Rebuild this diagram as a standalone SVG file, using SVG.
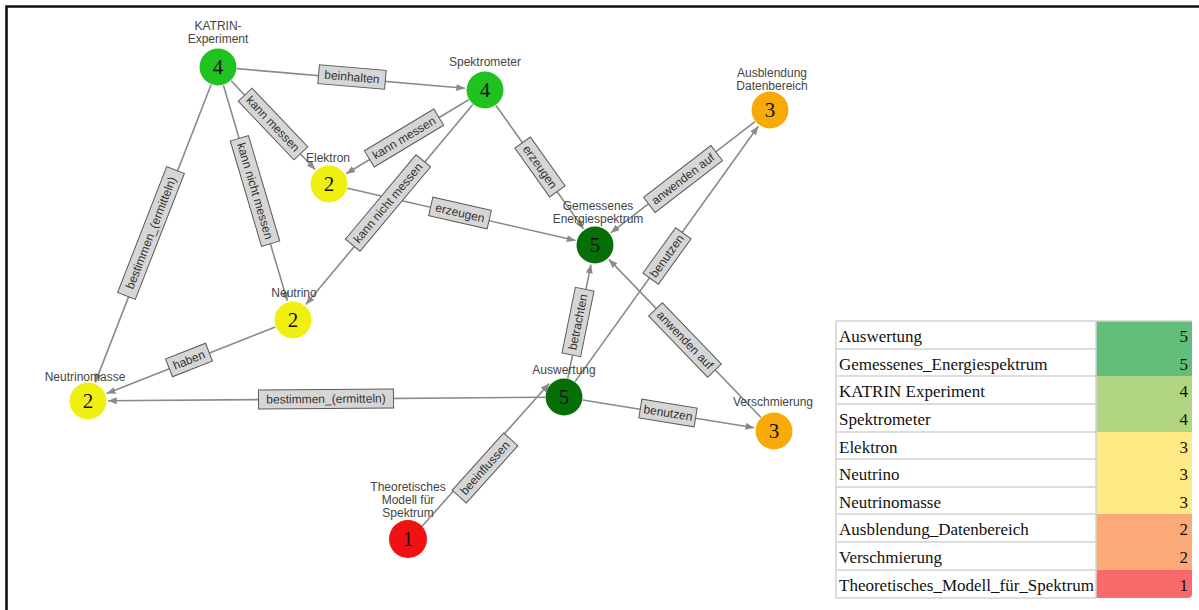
<svg xmlns="http://www.w3.org/2000/svg" width="1199" height="610" viewBox="0 0 1199 610">
  <style>
    .edge { stroke: #8a8a8a; stroke-width: 1.6; fill: none; }
    .elabel rect { fill: #d6d6d6; stroke: #5a5a5a; stroke-width: 1; }
    .elabel text { font-family: "Liberation Sans", Arial, sans-serif; font-size: 12px; fill: #333; text-anchor: middle; }
    .nlabel { font-family: "Liberation Sans", Arial, sans-serif; font-size: 12px; fill: #444; text-anchor: middle; }
    .num { font-family: "Liberation Serif", "Times New Roman", serif; font-size: 21px; fill: #111; text-anchor: middle; }
    .tbl { font-family: "Liberation Serif", "Times New Roman", serif; font-size: 17px; fill: #111; }
    .grid { stroke: #d2d2d2; stroke-width: 1.5; fill: none; }
  </style>
  <defs>
    <marker id="arrow" viewBox="0 0 10 8" refX="10" refY="4" markerWidth="9" markerHeight="7" markerUnits="userSpaceOnUse" orient="auto">
      <path d="M0,0 L10,4 L0,8 z" fill="#8a8a8a"/>
    </marker>
  </defs>

  <rect width="1199" height="610" fill="#ffffff"/>
  <!-- frame -->
  <path d="M6.5,610 V6.5 H1199" stroke="#111" stroke-width="2.6" fill="none"/>

  <!-- connectors -->
  <g id="connectors">
    <line class="edge" x1="236.9" y1="68.6" x2="465.1" y2="88.3" marker-end="url(#arrow)"/>
    <line class="edge" x1="231.1" y1="80.8" x2="315.2" y2="169.5" marker-end="url(#arrow)"/>
    <line class="edge" x1="223.4" y1="85.2" x2="287.3" y2="300.8" marker-end="url(#arrow)"/>
    <line class="edge" x1="211.1" y1="84.7" x2="95.3" y2="382.4" marker-end="url(#arrow)"/>
    <line class="edge" x1="468.7" y1="99.8" x2="346.1" y2="173.7" marker-end="url(#arrow)"/>
    <line class="edge" x1="472.8" y1="104.6" x2="305.8" y2="304.6" marker-end="url(#arrow)"/>
    <line class="edge" x1="496" y1="105.5" x2="583.4" y2="228.7" marker-end="url(#arrow)"/>
    <line class="edge" x1="347.5" y1="188.3" x2="575.5" y2="240.5" marker-end="url(#arrow)"/>
    <line class="edge" x1="755" y1="121.6" x2="610.8" y2="232.8" marker-end="url(#arrow)"/>
    <line class="edge" x1="575.1" y1="381.6" x2="758.3" y2="126.2" marker-end="url(#arrow)"/>
    <line class="edge" x1="567.8" y1="378.4" x2="591" y2="264.6" marker-end="url(#arrow)"/>
    <line class="edge" x1="760.8" y1="417.3" x2="608.9" y2="259.4" marker-end="url(#arrow)"/>
    <line class="edge" x1="582.8" y1="400" x2="754.3" y2="427.8" marker-end="url(#arrow)"/>
    <line class="edge" x1="545" y1="397.2" x2="108" y2="400.8" marker-end="url(#arrow)"/>
    <line class="edge" x1="275.3" y1="327" x2="106.6" y2="393.6" marker-end="url(#arrow)"/>
    <line class="edge" x1="422.1" y1="526.2" x2="549.2" y2="383.5" marker-end="url(#arrow)"/>

    <!-- connector labels -->
    <g class="elabel" transform="translate(352,77) rotate(4.9)"><rect x="-33.5" y="-9.5" width="67" height="19"/><text y="4">beinhalten</text></g>
    <g class="elabel" transform="translate(273,124) rotate(46.5)"><rect x="-40.5" y="-9.5" width="81" height="19"/><text y="4">kann messen</text></g>
    <g class="elabel" transform="translate(255,191) rotate(73.5)"><rect x="-55" y="-9.5" width="110" height="19"/><text y="4">kann nicht messen</text></g>
    <g class="elabel" transform="translate(151,233) rotate(-68.7)"><rect x="-67.5" y="-9.5" width="135" height="19"/><text y="4">bestimmen_(ermitteln)</text></g>
    <g class="elabel" transform="translate(404,138) rotate(-31)"><rect x="-40.5" y="-9.5" width="81" height="19"/><text y="4">kann messen</text></g>
    <g class="elabel" transform="translate(388,203) rotate(-50.1)"><rect x="-55" y="-9.5" width="110" height="19"/><text y="4">kann nicht messen</text></g>
    <g class="elabel" transform="translate(540,167) rotate(54.6)"><rect x="-30" y="-9.5" width="60" height="19"/><text y="4">erzeugen</text></g>
    <g class="elabel" transform="translate(460,213) rotate(12.9)"><rect x="-30" y="-9.5" width="60" height="19"/><text y="4">erzeugen</text></g>
    <g class="elabel" transform="translate(683,179) rotate(-37.6)"><rect x="-42.5" y="-9.5" width="85" height="19"/><text y="4">anwenden auf</text></g>
    <g class="elabel" transform="translate(667,256) rotate(-54.3)"><rect x="-28" y="-9.5" width="56" height="19"/><text y="4">benutzen</text></g>
    <g class="elabel" transform="translate(578,322) rotate(-78.5)"><rect x="-33.5" y="-9.5" width="67" height="19"/><text y="4">betrachten</text></g>
    <g class="elabel" transform="translate(685,340) rotate(46.1)"><rect x="-42.5" y="-9.5" width="85" height="19"/><text y="4">anwenden auf</text></g>
    <g class="elabel" transform="translate(668,413) rotate(9.2)"><rect x="-28" y="-9.5" width="56" height="19"/><text y="4">benutzen</text></g>
    <g class="elabel" transform="translate(326,399) rotate(-0.5)"><rect x="-67.5" y="-9.5" width="135" height="19"/><text y="4">bestimmen_(ermitteln)</text></g>
    <g class="elabel" transform="translate(189,360) rotate(-21.6)"><rect x="-21.5" y="-9.5" width="43" height="19"/><text y="4">haben</text></g>
    <g class="elabel" transform="translate(485,468) rotate(-48)"><rect x="-38.5" y="-9.5" width="77" height="19"/><text y="4">beeinflussen</text></g>
  </g>

  <!-- nodes -->
  <g id="katrin">
    <text class="nlabel" x="218" y="30">KATRIN-</text>
    <text class="nlabel" x="218" y="43">Experiment</text>
    <circle cx="218" cy="67" r="18.5" fill="#1fc21f"/>
    <text class="num" x="218" y="74">4</text>
  </g>
  <g id="spektrometer">
    <text class="nlabel" x="485" y="66">Spektrometer</text>
    <circle cx="485" cy="90" r="18.5" fill="#1fc21f"/>
    <text class="num" x="485" y="97">4</text>
  </g>
  <g id="ausblendung">
    <text class="nlabel" x="772" y="77">Ausblendung</text>
    <text class="nlabel" x="772" y="90">Datenbereich</text>
    <circle cx="770" cy="110" r="18.5" fill="#f7aa08"/>
    <text class="num" x="770" y="117">3</text>
  </g>
  <g id="elektron">
    <text class="nlabel" x="328" y="162">Elektron</text>
    <circle cx="329" cy="184" r="18.5" fill="#f0f010"/>
    <text class="num" x="329" y="191">2</text>
  </g>
  <g id="gemessenes">
    <text class="nlabel" x="598" y="210">Gemessenes</text>
    <text class="nlabel" x="598" y="223">Energiespektrum</text>
    <circle cx="595" cy="245" r="18.5" fill="#067006"/>
    <text class="num" x="595" y="252">5</text>
  </g>
  <g id="neutrino">
    <text class="nlabel" x="294" y="297">Neutrino</text>
    <circle cx="293" cy="320" r="18.5" fill="#f0f010"/>
    <text class="num" x="293" y="327">2</text>
  </g>
  <g id="neutrinomasse">
    <text class="nlabel" x="85" y="381">Neutrinomasse</text>
    <circle cx="88" cy="401" r="18.5" fill="#f0f010"/>
    <text class="num" x="88" y="408">2</text>
  </g>
  <g id="auswertung">
    <text class="nlabel" x="564" y="374">Auswertung</text>
    <circle cx="564" cy="397" r="18.5" fill="#067006"/>
    <text class="num" x="564" y="404">5</text>
  </g>
  <g id="verschmierung">
    <text class="nlabel" x="773" y="406">Verschmierung</text>
    <circle cx="774" cy="431" r="18.5" fill="#f7aa08"/>
    <text class="num" x="774" y="438">3</text>
  </g>
  <g id="theoretisches">
    <text class="nlabel" x="408" y="491">Theoretisches</text>
    <text class="nlabel" x="408" y="504">Modell für</text>
    <text class="nlabel" x="408" y="517">Spektrum</text>
    <circle cx="408" cy="539" r="19" fill="#f01212"/>
    <text class="num" x="408" y="546">1</text>
  </g>

  <!-- ranking table -->
  <g id="table">
    <rect x="1096" y="321" width="96" height="55" fill="#63be7b"/>
    <rect x="1096" y="376" width="96" height="56" fill="#b1d580"/>
    <rect x="1096" y="432" width="96" height="82" fill="#ffe984"/>
    <rect x="1096" y="514" width="96" height="56" fill="#fbaa77"/>
    <path d="M1096,570 H1192 V594 A4,4 0 0 1 1188,598 H1096 Z" fill="#f8696b"/>
    <path class="grid" d="M836,321 H1192 M836,349 H1096 M836,376 H1096 M836,404 H1096 M836,432 H1096 M836,459 H1096 M836,487 H1096 M836,514 H1096 M836,542 H1096 M836,570 H1096 M836,598 H1096 M836,321 V598 M1096,321 V598"/>
    <text class="tbl" x="839" y="342">Auswertung</text>
    <text class="tbl" x="839" y="370">Gemessenes_Energiespektrum</text>
    <text class="tbl" x="839" y="397">KATRIN Experiment</text>
    <text class="tbl" x="839" y="425">Spektrometer</text>
    <text class="tbl" x="839" y="453">Elektron</text>
    <text class="tbl" x="839" y="480">Neutrino</text>
    <text class="tbl" x="839" y="508">Neutrinomasse</text>
    <text class="tbl" x="839" y="535">Ausblendung_Datenbereich</text>
    <text class="tbl" x="839" y="563">Verschmierung</text>
    <text class="tbl" x="839" y="591">Theoretisches_Modell_für_Spektrum</text>
    <g class="tbl" text-anchor="end">
      <text x="1188" y="342">5</text>
      <text x="1188" y="370">5</text>
      <text x="1188" y="397">4</text>
      <text x="1188" y="425">4</text>
      <text x="1188" y="453">3</text>
      <text x="1188" y="480">3</text>
      <text x="1188" y="508">3</text>
      <text x="1188" y="535">2</text>
      <text x="1188" y="563">2</text>
      <text x="1188" y="591">1</text>
    </g>
  </g>
</svg>
